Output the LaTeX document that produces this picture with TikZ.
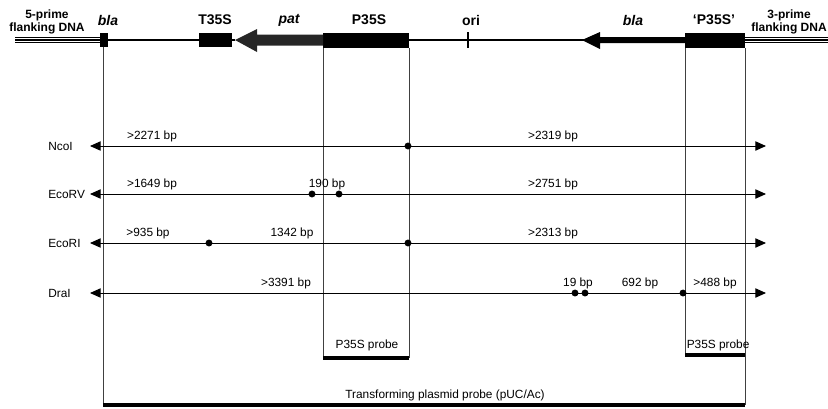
\documentclass[tikz,border=0pt]{standalone}
\usepackage{fontspec}
\setmainfont{Liberation Sans}
\usetikzlibrary{arrows.meta}
\begin{document}
\begin{tikzpicture}[x=0.75pt,y=-0.75pt,
  lbl/.style={font=\fontsize{8.9}{10}\selectfont, inner sep=0pt},
  hdr/.style={font=\fontsize{10.5}{12}\selectfont\bfseries, inner sep=0pt},
  hdri/.style={font=\fontsize{10.5}{12}\selectfont\bfseries\itshape, inner sep=0pt},
  flank/.style={font=\fontsize{9}{9.8}\selectfont\bfseries, inner sep=0pt, align=center},
  dot/.style={circle, fill=black, inner sep=0pt, minimum size=5.2pt},
  vline/.style={line width=0.5pt, black!75},
  thickline/.style={line width=2.6pt},
  rowline/.style={line width=0.7pt, {Triangle[length=8pt,width=7pt]}-{Triangle[length=8pt,width=7pt]}},
  dna/.style={line width=0.9pt}
]
\useasboundingbox (0,0) rectangle (828,408);

% ---------- map ----------
% flanking DNA
\foreach \yy in {37.3,40,42.7} {
  \draw[dna] (15,\yy) -- (101,\yy);
  \draw[dna] (745,\yy) -- (828,\yy);
}
% backbone
\draw[line width=0.8pt] (108,40) -- (235,40);
\draw[line width=0.8pt] (409,40) -- (590,40);
% boxes
\fill (100,33) rectangle (108,47);
\fill (199,33) rectangle (232,47);
\fill (323,33) rectangle (409,48);
\fill (685,33) rectangle (745,48);
% pat arrow
\fill[black!85] (235,40) -- (257,29) -- (257,34.5) -- (323,34.5) -- (323,45.5) -- (257,45.5) -- (257,52) -- cycle;
% bla arrow
\fill (582,40) -- (600,32) -- (600,37) -- (685,37) -- (685,43) -- (600,43) -- (600,49) -- cycle;
% ori tick
\coordinate (oriT) at (468,32);
\coordinate (oriB) at (468,48);
\draw[line width=0.8pt] (oriT) -- (oriB);

% headings
\node[flank] (f5) at (47,21.5) {5-prime\\flanking DNA};
\node[flank] (f3) at (789,21.5) {3-prime\\flanking DNA};
\node[hdri] (hbla1) at (108,20) {bla};
\node[hdr] (ht35s) at (215,20) {T35S};
\node[hdri] (hpat) at (289,20) {pat};
\node[hdr] (hp35s) at (369,20) {P35S};
\node[hdr] (hori) at (471,20) {ori};
\node[hdri] (hbla2) at (633,20) {bla};
\node[hdr] (hp35s2) at (714,20) {`P35S'};

% ---------- probes / verticals ----------
\coordinate (a1) at (103,47);  \coordinate (a2) at (103,405);
\coordinate (b1) at (323,48);  \coordinate (b2) at (323,358);
\coordinate (c1) at (409,48);  \coordinate (c2) at (409,358);
\coordinate (d1) at (685,48);  \coordinate (d2) at (685,355);
\coordinate (e1) at (745,48);  \coordinate (e2) at (745,405);
\coordinate (e3) at (745,355);
\draw[vline] (a1) -- (a2);
\draw[vline] (b1) -- (b2);
\draw[vline] (c1) -- (c2);
\draw[vline] (d1) -- (d2);
\draw[vline] (e1) -- (e2);
\draw[thickline] (b2) -- (c2);
\draw[thickline] (d2) -- (e3);
\draw[thickline] (a2) -- (e2);
\node[lbl] (pr1) at (367,345) {P35S probe};
\node[lbl, anchor=west] (pr2) at (686.5,345) {P35S probe};
\node[lbl] (pr3) at (445,395) {Transforming plasmid probe (pUC/Ac)};

% ---------- restriction rows ----------
% NcoI
\node[lbl, anchor=west] (lNco) at (48,146) {NcoI};
\coordinate (nL) at (90,146); \coordinate (nR) at (766,146);
\draw[rowline] (nL) -- (nR);
\node[dot] (n1) at (408,146) {};
\node[lbl, anchor=base] at (152,139) {>2271 bp};
\node[lbl, anchor=base] at (553,139) {>2319 bp};

% EcoRV
\node[lbl, anchor=west] (lEV) at (48,194.5) {EcoRV};
\coordinate (vL) at (90,194) ; \coordinate (vR) at (766,194);
\draw[rowline] (vL) -- (vR);
\node[dot] (v1) at (312,194) {};
\node[dot] (v2) at (339,194) {};
\node[lbl, anchor=base] at (152,187) {>1649 bp};
\node[lbl, anchor=base] at (327,187) {190 bp};
\node[lbl, anchor=base] at (553,187) {>2751 bp};

% EcoRI
\node[lbl, anchor=west] (lEI) at (48,243.5) {EcoRI};
\coordinate (iL) at (90,243); \coordinate (iR) at (766,243);
\draw[rowline] (iL) -- (iR);
\node[dot] (i1) at (209,243) {};
\node[dot] (i2) at (408,243) {};
\node[lbl, anchor=base] at (148,236) {>935 bp};
\node[lbl, anchor=base] at (292,236) {1342 bp};
\node[lbl, anchor=base] at (553,236) {>2313 bp};

% DraI
\node[lbl, anchor=west] (lDr) at (48,293.5) {DraI};
\coordinate (rL) at (90,293); \coordinate (rR) at (766,293);
\draw[rowline] (rL) -- (rR);
\node[dot] (r1) at (575,293) {};
\node[dot] (r2) at (585,293) {};
\node[dot] (r3) at (683,293) {};
\node[lbl, anchor=base] at (286,286) {>3391 bp};
\node[lbl, anchor=base] at (578,286) {19 bp};
\node[lbl, anchor=base] at (640,286) {692 bp};
\node[lbl, anchor=base] at (715,286) {>488 bp};
\end{tikzpicture}
\end{document}
